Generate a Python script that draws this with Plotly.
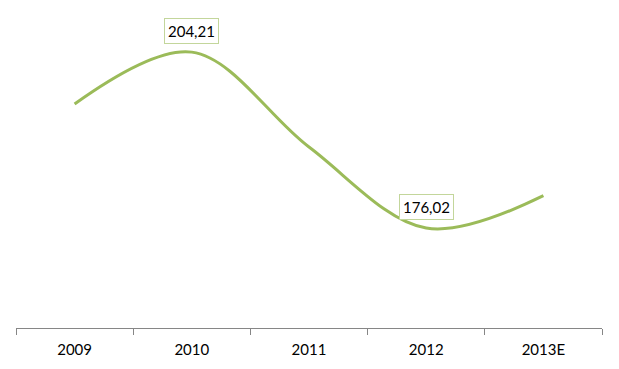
import plotly.graph_objects as go

years = ["2009", "2010", "2011", "2012", "2013E"]
values = [195.9, 204.21, 189.0, 176.02, 181.2]
labelled = ["2010", "2012"]

fig = go.Figure()
fig.add_trace(go.Scatter(
    x=years, y=values, mode="lines",
    line=dict(color="#9BBB59", width=3, shape="spline", smoothing=1.0),
    hoverinfo="skip", showlegend=False,
))

for i, (yr, v) in enumerate(zip(years, values)):
    if yr in labelled:
        fig.add_annotation(
            x=i, y=v, xref="x", yref="y",
            text=f"{v:.2f}".replace(".", ","),
            showarrow=False, yanchor="bottom", yshift=8,
            font=dict(family="Lato, Open Sans, sans-serif", size=15, color="#000000"),
            bgcolor="#FFFFFF", bordercolor="#C3D69B", borderwidth=1, borderpad=3,
        )

fig.update_layout(
    width=619, height=369,
    margin=dict(l=16, r=17, t=16, b=41),
    paper_bgcolor="#FFFFFF", plot_bgcolor="#FFFFFF",
    xaxis=dict(
        type="category", range=[-0.5, 4.5],
        showline=True, linecolor="#868686", linewidth=1,
        ticks="outside", tickson="boundaries", ticklen=6, tickcolor="#868686",
        showgrid=False, zeroline=False, ticklabelstandoff=8,
        tickfont=dict(family="Lato, Open Sans, sans-serif", size=15, color="#000000"),
    ),
    yaxis=dict(visible=False, range=[160, 210]),
)

fig.write_html("out.html")
